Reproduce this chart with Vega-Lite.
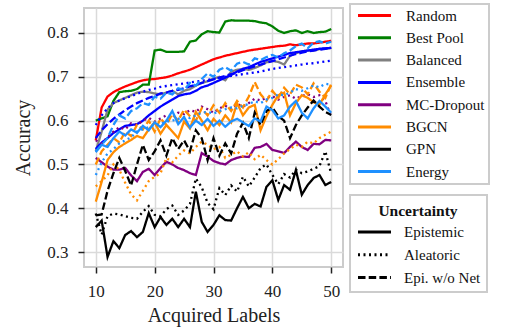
{
  "$schema": "https://vega.github.io/schema/vega-lite/v6.json",
  "width": 259,
  "height": 259,
  "autosize": {"type": "none"},
  "padding": {"left": 84, "top": 8, "right": 172, "bottom": 65},
  "background": "white",
  "config": {
    "view": {"stroke": "#cccccc", "strokeWidth": 2},
    "style": {
      "guide-label": {"font": "Liberation Serif"},
      "guide-title": {"font": "Liberation Serif"}
    },
    "axis": {
      "labelFont": "Liberation Serif",
      "labelFontSize": 17,
      "labelColor": "#222222",
      "titleFont": "Liberation Serif",
      "titleFontSize": 20,
      "titleFontWeight": "normal",
      "titleColor": "#222222",
      "domain": false,
      "tickColor": "#222222",
      "tickSize": 6,
      "tickWidth": 1.5,
      "labelPadding": 10,
      "gridColor": "#dadada",
      "gridWidth": 1.5
    },
    "legend": {
      "labelFont": "Liberation Serif",
      "labelFontSize": 15,
      "labelColor": "#111111",
      "symbolType": "M-3,0H3",
      "symbolSize": 121,
      "symbolStrokeWidth": 3,
      "symbolOffset": 13,
      "labelOffset": 24,
      "rowPadding": 6.3,
      "padding": 4,
      "strokeColor": "#cccccc",
      "fillColor": "white",
      "cornerRadius": 0
    }
  },
  "data": {"values": [
    {"m":"Random","u":"E","x":10,"y":0.555},{"m":"Random","u":"E","x":11,"y":0.630},{"m":"Random","u":"E","x":12,"y":0.655},{"m":"Random","u":"E","x":13,"y":0.665},{"m":"Random","u":"E","x":14,"y":0.672},{"m":"Random","u":"E","x":15,"y":0.678},{"m":"Random","u":"E","x":16,"y":0.683},{"m":"Random","u":"E","x":17,"y":0.688},{"m":"Random","u":"E","x":18,"y":0.692},{"m":"Random","u":"E","x":19,"y":0.694},{"m":"Random","u":"E","x":20,"y":0.695},{"m":"Random","u":"E","x":21,"y":0.697},{"m":"Random","u":"E","x":22,"y":0.699},{"m":"Random","u":"E","x":23,"y":0.703},{"m":"Random","u":"E","x":24,"y":0.708},{"m":"Random","u":"E","x":25,"y":0.712},{"m":"Random","u":"E","x":26,"y":0.716},{"m":"Random","u":"E","x":27,"y":0.722},{"m":"Random","u":"E","x":28,"y":0.728},{"m":"Random","u":"E","x":29,"y":0.734},{"m":"Random","u":"E","x":30,"y":0.740},{"m":"Random","u":"E","x":31,"y":0.744},{"m":"Random","u":"E","x":32,"y":0.748},{"m":"Random","u":"E","x":33,"y":0.751},{"m":"Random","u":"E","x":34,"y":0.754},{"m":"Random","u":"E","x":35,"y":0.757},{"m":"Random","u":"E","x":36,"y":0.760},{"m":"Random","u":"E","x":37,"y":0.762},{"m":"Random","u":"E","x":38,"y":0.764},{"m":"Random","u":"E","x":39,"y":0.766},{"m":"Random","u":"E","x":40,"y":0.768},{"m":"Random","u":"E","x":41,"y":0.770},{"m":"Random","u":"E","x":42,"y":0.771},{"m":"Random","u":"E","x":43,"y":0.774},{"m":"Random","u":"E","x":44,"y":0.772},{"m":"Random","u":"E","x":45,"y":0.774},{"m":"Random","u":"E","x":46,"y":0.776},{"m":"Random","u":"E","x":47,"y":0.776},{"m":"Random","u":"E","x":48,"y":0.778},{"m":"Random","u":"E","x":49,"y":0.780},{"m":"Random","u":"E","x":50,"y":0.782},

    {"m":"Best Pool","u":"E","x":10,"y":0.600},{"m":"Best Pool","u":"E","x":11,"y":0.605},{"m":"Best Pool","u":"E","x":12,"y":0.610},{"m":"Best Pool","u":"E","x":13,"y":0.645},{"m":"Best Pool","u":"E","x":14,"y":0.665},{"m":"Best Pool","u":"E","x":15,"y":0.667},{"m":"Best Pool","u":"E","x":16,"y":0.668},{"m":"Best Pool","u":"E","x":17,"y":0.672},{"m":"Best Pool","u":"E","x":18,"y":0.682},{"m":"Best Pool","u":"E","x":19,"y":0.682},{"m":"Best Pool","u":"E","x":20,"y":0.760},{"m":"Best Pool","u":"E","x":21,"y":0.762},{"m":"Best Pool","u":"E","x":22,"y":0.757},{"m":"Best Pool","u":"E","x":23,"y":0.757},{"m":"Best Pool","u":"E","x":24,"y":0.757},{"m":"Best Pool","u":"E","x":25,"y":0.758},{"m":"Best Pool","u":"E","x":26,"y":0.780},{"m":"Best Pool","u":"E","x":27,"y":0.783},{"m":"Best Pool","u":"E","x":28,"y":0.797},{"m":"Best Pool","u":"E","x":29,"y":0.804},{"m":"Best Pool","u":"E","x":30,"y":0.802},{"m":"Best Pool","u":"E","x":31,"y":0.801},{"m":"Best Pool","u":"E","x":32,"y":0.826},{"m":"Best Pool","u":"E","x":33,"y":0.829},{"m":"Best Pool","u":"E","x":34,"y":0.828},{"m":"Best Pool","u":"E","x":35,"y":0.828},{"m":"Best Pool","u":"E","x":36,"y":0.828},{"m":"Best Pool","u":"E","x":37,"y":0.827},{"m":"Best Pool","u":"E","x":38,"y":0.824},{"m":"Best Pool","u":"E","x":39,"y":0.822},{"m":"Best Pool","u":"E","x":40,"y":0.815},{"m":"Best Pool","u":"E","x":41,"y":0.805},{"m":"Best Pool","u":"E","x":42,"y":0.800},{"m":"Best Pool","u":"E","x":43,"y":0.804},{"m":"Best Pool","u":"E","x":44,"y":0.806},{"m":"Best Pool","u":"E","x":45,"y":0.800},{"m":"Best Pool","u":"E","x":46,"y":0.804},{"m":"Best Pool","u":"E","x":47,"y":0.800},{"m":"Best Pool","u":"E","x":48,"y":0.802},{"m":"Best Pool","u":"E","x":49,"y":0.803},{"m":"Best Pool","u":"E","x":50,"y":0.809},

    {"m":"Balanced","u":"E","x":10,"y":0.530},{"m":"Balanced","u":"E","x":11,"y":0.575},{"m":"Balanced","u":"E","x":12,"y":0.625},{"m":"Balanced","u":"E","x":13,"y":0.640},{"m":"Balanced","u":"E","x":14,"y":0.646},{"m":"Balanced","u":"E","x":15,"y":0.652},{"m":"Balanced","u":"E","x":16,"y":0.658},{"m":"Balanced","u":"E","x":17,"y":0.664},{"m":"Balanced","u":"E","x":18,"y":0.666},{"m":"Balanced","u":"E","x":19,"y":0.665},{"m":"Balanced","u":"E","x":20,"y":0.662},{"m":"Balanced","u":"E","x":21,"y":0.660},{"m":"Balanced","u":"E","x":22,"y":0.664},{"m":"Balanced","u":"E","x":23,"y":0.668},{"m":"Balanced","u":"E","x":24,"y":0.660},{"m":"Balanced","u":"E","x":25,"y":0.668},{"m":"Balanced","u":"E","x":26,"y":0.672},{"m":"Balanced","u":"E","x":27,"y":0.680},{"m":"Balanced","u":"E","x":28,"y":0.686},{"m":"Balanced","u":"E","x":29,"y":0.690},{"m":"Balanced","u":"E","x":30,"y":0.696},{"m":"Balanced","u":"E","x":31,"y":0.700},{"m":"Balanced","u":"E","x":32,"y":0.692},{"m":"Balanced","u":"E","x":33,"y":0.712},{"m":"Balanced","u":"E","x":34,"y":0.716},{"m":"Balanced","u":"E","x":35,"y":0.718},{"m":"Balanced","u":"E","x":36,"y":0.716},{"m":"Balanced","u":"E","x":37,"y":0.720},{"m":"Balanced","u":"E","x":38,"y":0.726},{"m":"Balanced","u":"E","x":39,"y":0.733},{"m":"Balanced","u":"E","x":40,"y":0.736},{"m":"Balanced","u":"E","x":41,"y":0.734},{"m":"Balanced","u":"E","x":42,"y":0.728},{"m":"Balanced","u":"E","x":43,"y":0.748},{"m":"Balanced","u":"E","x":44,"y":0.754},{"m":"Balanced","u":"E","x":45,"y":0.758},{"m":"Balanced","u":"E","x":46,"y":0.760},{"m":"Balanced","u":"E","x":47,"y":0.760},{"m":"Balanced","u":"E","x":48,"y":0.763},{"m":"Balanced","u":"E","x":49,"y":0.764},{"m":"Balanced","u":"E","x":50,"y":0.766},

    {"m":"Ensemble","u":"E","x":10,"y":0.535},{"m":"Ensemble","u":"E","x":11,"y":0.550},{"m":"Ensemble","u":"E","x":12,"y":0.560},{"m":"Ensemble","u":"E","x":13,"y":0.572},{"m":"Ensemble","u":"E","x":14,"y":0.580},{"m":"Ensemble","u":"E","x":15,"y":0.588},{"m":"Ensemble","u":"E","x":16,"y":0.590},{"m":"Ensemble","u":"E","x":17,"y":0.592},{"m":"Ensemble","u":"E","x":18,"y":0.600},{"m":"Ensemble","u":"E","x":19,"y":0.612},{"m":"Ensemble","u":"E","x":20,"y":0.622},{"m":"Ensemble","u":"E","x":21,"y":0.632},{"m":"Ensemble","u":"E","x":22,"y":0.640},{"m":"Ensemble","u":"E","x":23,"y":0.648},{"m":"Ensemble","u":"E","x":24,"y":0.656},{"m":"Ensemble","u":"E","x":25,"y":0.660},{"m":"Ensemble","u":"E","x":26,"y":0.662},{"m":"Ensemble","u":"E","x":27,"y":0.668},{"m":"Ensemble","u":"E","x":28,"y":0.676},{"m":"Ensemble","u":"E","x":29,"y":0.680},{"m":"Ensemble","u":"E","x":30,"y":0.686},{"m":"Ensemble","u":"E","x":31,"y":0.692},{"m":"Ensemble","u":"E","x":32,"y":0.698},{"m":"Ensemble","u":"E","x":33,"y":0.704},{"m":"Ensemble","u":"E","x":34,"y":0.712},{"m":"Ensemble","u":"E","x":35,"y":0.718},{"m":"Ensemble","u":"E","x":36,"y":0.722},{"m":"Ensemble","u":"E","x":37,"y":0.728},{"m":"Ensemble","u":"E","x":38,"y":0.734},{"m":"Ensemble","u":"E","x":39,"y":0.738},{"m":"Ensemble","u":"E","x":40,"y":0.742},{"m":"Ensemble","u":"E","x":41,"y":0.746},{"m":"Ensemble","u":"E","x":42,"y":0.750},{"m":"Ensemble","u":"E","x":43,"y":0.754},{"m":"Ensemble","u":"E","x":44,"y":0.756},{"m":"Ensemble","u":"E","x":45,"y":0.758},{"m":"Ensemble","u":"E","x":46,"y":0.760},{"m":"Ensemble","u":"E","x":47,"y":0.762},{"m":"Ensemble","u":"E","x":48,"y":0.764},{"m":"Ensemble","u":"E","x":49,"y":0.765},{"m":"Ensemble","u":"E","x":50,"y":0.766},

    {"m":"Ensemble","u":"A","x":10,"y":0.590},{"m":"Ensemble","u":"A","x":11,"y":0.612},{"m":"Ensemble","u":"A","x":12,"y":0.628},{"m":"Ensemble","u":"A","x":13,"y":0.640},{"m":"Ensemble","u":"A","x":14,"y":0.646},{"m":"Ensemble","u":"A","x":15,"y":0.651},{"m":"Ensemble","u":"A","x":16,"y":0.656},{"m":"Ensemble","u":"A","x":17,"y":0.661},{"m":"Ensemble","u":"A","x":18,"y":0.666},{"m":"Ensemble","u":"A","x":19,"y":0.670},{"m":"Ensemble","u":"A","x":20,"y":0.673},{"m":"Ensemble","u":"A","x":21,"y":0.677},{"m":"Ensemble","u":"A","x":22,"y":0.679},{"m":"Ensemble","u":"A","x":23,"y":0.681},{"m":"Ensemble","u":"A","x":24,"y":0.683},{"m":"Ensemble","u":"A","x":25,"y":0.685},{"m":"Ensemble","u":"A","x":26,"y":0.687},{"m":"Ensemble","u":"A","x":27,"y":0.689},{"m":"Ensemble","u":"A","x":28,"y":0.691},{"m":"Ensemble","u":"A","x":29,"y":0.693},{"m":"Ensemble","u":"A","x":30,"y":0.695},{"m":"Ensemble","u":"A","x":31,"y":0.697},{"m":"Ensemble","u":"A","x":32,"y":0.700},{"m":"Ensemble","u":"A","x":33,"y":0.702},{"m":"Ensemble","u":"A","x":34,"y":0.704},{"m":"Ensemble","u":"A","x":35,"y":0.706},{"m":"Ensemble","u":"A","x":36,"y":0.708},{"m":"Ensemble","u":"A","x":37,"y":0.710},{"m":"Ensemble","u":"A","x":38,"y":0.712},{"m":"Ensemble","u":"A","x":39,"y":0.715},{"m":"Ensemble","u":"A","x":40,"y":0.718},{"m":"Ensemble","u":"A","x":41,"y":0.720},{"m":"Ensemble","u":"A","x":42,"y":0.722},{"m":"Ensemble","u":"A","x":43,"y":0.724},{"m":"Ensemble","u":"A","x":44,"y":0.726},{"m":"Ensemble","u":"A","x":45,"y":0.728},{"m":"Ensemble","u":"A","x":46,"y":0.730},{"m":"Ensemble","u":"A","x":47,"y":0.731},{"m":"Ensemble","u":"A","x":48,"y":0.733},{"m":"Ensemble","u":"A","x":49,"y":0.735},{"m":"Ensemble","u":"A","x":50,"y":0.737},

    {"m":"Ensemble","u":"W","x":10,"y":0.560},{"m":"Ensemble","u":"W","x":11,"y":0.578},{"m":"Ensemble","u":"W","x":12,"y":0.592},{"m":"Ensemble","u":"W","x":13,"y":0.604},{"m":"Ensemble","u":"W","x":14,"y":0.614},{"m":"Ensemble","u":"W","x":15,"y":0.624},{"m":"Ensemble","u":"W","x":16,"y":0.632},{"m":"Ensemble","u":"W","x":17,"y":0.640},{"m":"Ensemble","u":"W","x":18,"y":0.646},{"m":"Ensemble","u":"W","x":19,"y":0.652},{"m":"Ensemble","u":"W","x":20,"y":0.656},{"m":"Ensemble","u":"W","x":21,"y":0.662},{"m":"Ensemble","u":"W","x":22,"y":0.664},{"m":"Ensemble","u":"W","x":23,"y":0.668},{"m":"Ensemble","u":"W","x":24,"y":0.670},{"m":"Ensemble","u":"W","x":25,"y":0.674},{"m":"Ensemble","u":"W","x":26,"y":0.678},{"m":"Ensemble","u":"W","x":27,"y":0.682},{"m":"Ensemble","u":"W","x":28,"y":0.686},{"m":"Ensemble","u":"W","x":29,"y":0.690},{"m":"Ensemble","u":"W","x":30,"y":0.694},{"m":"Ensemble","u":"W","x":31,"y":0.698},{"m":"Ensemble","u":"W","x":32,"y":0.702},{"m":"Ensemble","u":"W","x":33,"y":0.706},{"m":"Ensemble","u":"W","x":34,"y":0.710},{"m":"Ensemble","u":"W","x":35,"y":0.715},{"m":"Ensemble","u":"W","x":36,"y":0.720},{"m":"Ensemble","u":"W","x":37,"y":0.724},{"m":"Ensemble","u":"W","x":38,"y":0.728},{"m":"Ensemble","u":"W","x":39,"y":0.732},{"m":"Ensemble","u":"W","x":40,"y":0.736},{"m":"Ensemble","u":"W","x":41,"y":0.740},{"m":"Ensemble","u":"W","x":42,"y":0.744},{"m":"Ensemble","u":"W","x":43,"y":0.748},{"m":"Ensemble","u":"W","x":44,"y":0.752},{"m":"Ensemble","u":"W","x":45,"y":0.755},{"m":"Ensemble","u":"W","x":46,"y":0.758},{"m":"Ensemble","u":"W","x":47,"y":0.760},{"m":"Ensemble","u":"W","x":48,"y":0.762},{"m":"Ensemble","u":"W","x":49,"y":0.764},{"m":"Ensemble","u":"W","x":50,"y":0.766},

    {"m":"MC-Dropout","u":"E","x":10,"y":0.515},{"m":"MC-Dropout","u":"E","x":11,"y":0.505},{"m":"MC-Dropout","u":"E","x":12,"y":0.495},{"m":"MC-Dropout","u":"E","x":13,"y":0.488},{"m":"MC-Dropout","u":"E","x":14,"y":0.488},{"m":"MC-Dropout","u":"E","x":15,"y":0.492},{"m":"MC-Dropout","u":"E","x":16,"y":0.475},{"m":"MC-Dropout","u":"E","x":17,"y":0.462},{"m":"MC-Dropout","u":"E","x":18,"y":0.483},{"m":"MC-Dropout","u":"E","x":19,"y":0.490},{"m":"MC-Dropout","u":"E","x":20,"y":0.476},{"m":"MC-Dropout","u":"E","x":21,"y":0.492},{"m":"MC-Dropout","u":"E","x":22,"y":0.506},{"m":"MC-Dropout","u":"E","x":23,"y":0.500},{"m":"MC-Dropout","u":"E","x":24,"y":0.492},{"m":"MC-Dropout","u":"E","x":25,"y":0.487},{"m":"MC-Dropout","u":"E","x":26,"y":0.480},{"m":"MC-Dropout","u":"E","x":27,"y":0.476},{"m":"MC-Dropout","u":"E","x":28,"y":0.526},{"m":"MC-Dropout","u":"E","x":29,"y":0.518},{"m":"MC-Dropout","u":"E","x":30,"y":0.508},{"m":"MC-Dropout","u":"E","x":31,"y":0.503},{"m":"MC-Dropout","u":"E","x":32,"y":0.500},{"m":"MC-Dropout","u":"E","x":33,"y":0.510},{"m":"MC-Dropout","u":"E","x":34,"y":0.515},{"m":"MC-Dropout","u":"E","x":35,"y":0.518},{"m":"MC-Dropout","u":"E","x":36,"y":0.517},{"m":"MC-Dropout","u":"E","x":37,"y":0.538},{"m":"MC-Dropout","u":"E","x":38,"y":0.540},{"m":"MC-Dropout","u":"E","x":39,"y":0.547},{"m":"MC-Dropout","u":"E","x":40,"y":0.533},{"m":"MC-Dropout","u":"E","x":41,"y":0.530},{"m":"MC-Dropout","u":"E","x":42,"y":0.526},{"m":"MC-Dropout","u":"E","x":43,"y":0.540},{"m":"MC-Dropout","u":"E","x":44,"y":0.552},{"m":"MC-Dropout","u":"E","x":45,"y":0.540},{"m":"MC-Dropout","u":"E","x":46,"y":0.533},{"m":"MC-Dropout","u":"E","x":47,"y":0.547},{"m":"MC-Dropout","u":"E","x":48,"y":0.546},{"m":"MC-Dropout","u":"E","x":49,"y":0.556},{"m":"MC-Dropout","u":"E","x":50,"y":0.555},

    {"m":"MC-Dropout","u":"A","x":10,"y":0.555},{"m":"MC-Dropout","u":"A","x":11,"y":0.548},{"m":"MC-Dropout","u":"A","x":12,"y":0.562},{"m":"MC-Dropout","u":"A","x":13,"y":0.575},{"m":"MC-Dropout","u":"A","x":14,"y":0.585},{"m":"MC-Dropout","u":"A","x":15,"y":0.580},{"m":"MC-Dropout","u":"A","x":16,"y":0.594},{"m":"MC-Dropout","u":"A","x":17,"y":0.590},{"m":"MC-Dropout","u":"A","x":18,"y":0.600},{"m":"MC-Dropout","u":"A","x":19,"y":0.606},{"m":"MC-Dropout","u":"A","x":20,"y":0.598},{"m":"MC-Dropout","u":"A","x":21,"y":0.605},{"m":"MC-Dropout","u":"A","x":22,"y":0.612},{"m":"MC-Dropout","u":"A","x":23,"y":0.606},{"m":"MC-Dropout","u":"A","x":24,"y":0.618},{"m":"MC-Dropout","u":"A","x":25,"y":0.615},{"m":"MC-Dropout","u":"A","x":26,"y":0.624},{"m":"MC-Dropout","u":"A","x":27,"y":0.620},{"m":"MC-Dropout","u":"A","x":28,"y":0.632},{"m":"MC-Dropout","u":"A","x":29,"y":0.626},{"m":"MC-Dropout","u":"A","x":30,"y":0.618},{"m":"MC-Dropout","u":"A","x":31,"y":0.628},{"m":"MC-Dropout","u":"A","x":32,"y":0.634},{"m":"MC-Dropout","u":"A","x":33,"y":0.626},{"m":"MC-Dropout","u":"A","x":34,"y":0.638},{"m":"MC-Dropout","u":"A","x":35,"y":0.632},{"m":"MC-Dropout","u":"A","x":36,"y":0.640},{"m":"MC-Dropout","u":"A","x":37,"y":0.650},{"m":"MC-Dropout","u":"A","x":38,"y":0.646},{"m":"MC-Dropout","u":"A","x":39,"y":0.652},{"m":"MC-Dropout","u":"A","x":40,"y":0.656},{"m":"MC-Dropout","u":"A","x":41,"y":0.648},{"m":"MC-Dropout","u":"A","x":42,"y":0.654},{"m":"MC-Dropout","u":"A","x":43,"y":0.658},{"m":"MC-Dropout","u":"A","x":44,"y":0.650},{"m":"MC-Dropout","u":"A","x":45,"y":0.656},{"m":"MC-Dropout","u":"A","x":46,"y":0.660},{"m":"MC-Dropout","u":"A","x":47,"y":0.654},{"m":"MC-Dropout","u":"A","x":48,"y":0.658},{"m":"MC-Dropout","u":"A","x":49,"y":0.645},{"m":"MC-Dropout","u":"A","x":50,"y":0.608},

    {"m":"BGCN","u":"E","x":10,"y":0.415},{"m":"BGCN","u":"E","x":11,"y":0.460},{"m":"BGCN","u":"E","x":12,"y":0.510},{"m":"BGCN","u":"E","x":13,"y":0.528},{"m":"BGCN","u":"E","x":14,"y":0.540},{"m":"BGCN","u":"E","x":15,"y":0.548},{"m":"BGCN","u":"E","x":16,"y":0.556},{"m":"BGCN","u":"E","x":17,"y":0.565},{"m":"BGCN","u":"E","x":18,"y":0.560},{"m":"BGCN","u":"E","x":19,"y":0.580},{"m":"BGCN","u":"E","x":20,"y":0.596},{"m":"BGCN","u":"E","x":21,"y":0.570},{"m":"BGCN","u":"E","x":22,"y":0.590},{"m":"BGCN","u":"E","x":23,"y":0.575},{"m":"BGCN","u":"E","x":24,"y":0.560},{"m":"BGCN","u":"E","x":25,"y":0.598},{"m":"BGCN","u":"E","x":26,"y":0.582},{"m":"BGCN","u":"E","x":27,"y":0.620},{"m":"BGCN","u":"E","x":28,"y":0.600},{"m":"BGCN","u":"E","x":29,"y":0.578},{"m":"BGCN","u":"E","x":30,"y":0.604},{"m":"BGCN","u":"E","x":31,"y":0.590},{"m":"BGCN","u":"E","x":32,"y":0.612},{"m":"BGCN","u":"E","x":33,"y":0.596},{"m":"BGCN","u":"E","x":34,"y":0.640},{"m":"BGCN","u":"E","x":35,"y":0.612},{"m":"BGCN","u":"E","x":36,"y":0.630},{"m":"BGCN","u":"E","x":37,"y":0.636},{"m":"BGCN","u":"E","x":38,"y":0.578},{"m":"BGCN","u":"E","x":39,"y":0.610},{"m":"BGCN","u":"E","x":40,"y":0.636},{"m":"BGCN","u":"E","x":41,"y":0.658},{"m":"BGCN","u":"E","x":42,"y":0.664},{"m":"BGCN","u":"E","x":43,"y":0.612},{"m":"BGCN","u":"E","x":44,"y":0.640},{"m":"BGCN","u":"E","x":45,"y":0.658},{"m":"BGCN","u":"E","x":46,"y":0.652},{"m":"BGCN","u":"E","x":47,"y":0.642},{"m":"BGCN","u":"E","x":48,"y":0.636},{"m":"BGCN","u":"E","x":49,"y":0.660},{"m":"BGCN","u":"E","x":50,"y":0.680},

    {"m":"BGCN","u":"A","x":10,"y":0.450},{"m":"BGCN","u":"A","x":11,"y":0.462},{"m":"BGCN","u":"A","x":12,"y":0.475},{"m":"BGCN","u":"A","x":13,"y":0.500},{"m":"BGCN","u":"A","x":14,"y":0.488},{"m":"BGCN","u":"A","x":15,"y":0.458},{"m":"BGCN","u":"A","x":16,"y":0.432},{"m":"BGCN","u":"A","x":17,"y":0.418},{"m":"BGCN","u":"A","x":18,"y":0.440},{"m":"BGCN","u":"A","x":19,"y":0.462},{"m":"BGCN","u":"A","x":20,"y":0.472},{"m":"BGCN","u":"A","x":21,"y":0.480},{"m":"BGCN","u":"A","x":22,"y":0.515},{"m":"BGCN","u":"A","x":23,"y":0.505},{"m":"BGCN","u":"A","x":24,"y":0.520},{"m":"BGCN","u":"A","x":25,"y":0.532},{"m":"BGCN","u":"A","x":26,"y":0.525},{"m":"BGCN","u":"A","x":27,"y":0.540},{"m":"BGCN","u":"A","x":28,"y":0.552},{"m":"BGCN","u":"A","x":29,"y":0.545},{"m":"BGCN","u":"A","x":30,"y":0.535},{"m":"BGCN","u":"A","x":31,"y":0.540},{"m":"BGCN","u":"A","x":32,"y":0.515},{"m":"BGCN","u":"A","x":33,"y":0.522},{"m":"BGCN","u":"A","x":34,"y":0.530},{"m":"BGCN","u":"A","x":35,"y":0.518},{"m":"BGCN","u":"A","x":36,"y":0.528},{"m":"BGCN","u":"A","x":37,"y":0.512},{"m":"BGCN","u":"A","x":38,"y":0.522},{"m":"BGCN","u":"A","x":39,"y":0.510},{"m":"BGCN","u":"A","x":40,"y":0.500},{"m":"BGCN","u":"A","x":41,"y":0.512},{"m":"BGCN","u":"A","x":42,"y":0.525},{"m":"BGCN","u":"A","x":43,"y":0.535},{"m":"BGCN","u":"A","x":44,"y":0.545},{"m":"BGCN","u":"A","x":45,"y":0.540},{"m":"BGCN","u":"A","x":46,"y":0.552},{"m":"BGCN","u":"A","x":47,"y":0.548},{"m":"BGCN","u":"A","x":48,"y":0.560},{"m":"BGCN","u":"A","x":49,"y":0.568},{"m":"BGCN","u":"A","x":50,"y":0.575},

    {"m":"BGCN","u":"W","x":10,"y":0.500},{"m":"BGCN","u":"W","x":11,"y":0.530},{"m":"BGCN","u":"W","x":12,"y":0.545},{"m":"BGCN","u":"W","x":13,"y":0.560},{"m":"BGCN","u":"W","x":14,"y":0.550},{"m":"BGCN","u":"W","x":15,"y":0.575},{"m":"BGCN","u":"W","x":16,"y":0.565},{"m":"BGCN","u":"W","x":17,"y":0.590},{"m":"BGCN","u":"W","x":18,"y":0.580},{"m":"BGCN","u":"W","x":19,"y":0.600},{"m":"BGCN","u":"W","x":20,"y":0.575},{"m":"BGCN","u":"W","x":21,"y":0.605},{"m":"BGCN","u":"W","x":22,"y":0.590},{"m":"BGCN","u":"W","x":23,"y":0.615},{"m":"BGCN","u":"W","x":24,"y":0.600},{"m":"BGCN","u":"W","x":25,"y":0.625},{"m":"BGCN","u":"W","x":26,"y":0.610},{"m":"BGCN","u":"W","x":27,"y":0.600},{"m":"BGCN","u":"W","x":28,"y":0.628},{"m":"BGCN","u":"W","x":29,"y":0.612},{"m":"BGCN","u":"W","x":30,"y":0.635},{"m":"BGCN","u":"W","x":31,"y":0.618},{"m":"BGCN","u":"W","x":32,"y":0.640},{"m":"BGCN","u":"W","x":33,"y":0.622},{"m":"BGCN","u":"W","x":34,"y":0.645},{"m":"BGCN","u":"W","x":35,"y":0.630},{"m":"BGCN","u":"W","x":36,"y":0.655},{"m":"BGCN","u":"W","x":37,"y":0.688},{"m":"BGCN","u":"W","x":38,"y":0.660},{"m":"BGCN","u":"W","x":39,"y":0.645},{"m":"BGCN","u":"W","x":40,"y":0.668},{"m":"BGCN","u":"W","x":41,"y":0.652},{"m":"BGCN","u":"W","x":42,"y":0.675},{"m":"BGCN","u":"W","x":43,"y":0.660},{"m":"BGCN","u":"W","x":44,"y":0.682},{"m":"BGCN","u":"W","x":45,"y":0.676},{"m":"BGCN","u":"W","x":46,"y":0.660},{"m":"BGCN","u":"W","x":47,"y":0.685},{"m":"BGCN","u":"W","x":48,"y":0.666},{"m":"BGCN","u":"W","x":49,"y":0.652},{"m":"BGCN","u":"W","x":50,"y":0.684},

    {"m":"GPN","u":"E","x":10,"y":0.357},{"m":"GPN","u":"E","x":11,"y":0.372},{"m":"GPN","u":"E","x":12,"y":0.289},{"m":"GPN","u":"E","x":13,"y":0.325},{"m":"GPN","u":"E","x":14,"y":0.309},{"m":"GPN","u":"E","x":15,"y":0.339},{"m":"GPN","u":"E","x":16,"y":0.348},{"m":"GPN","u":"E","x":17,"y":0.334},{"m":"GPN","u":"E","x":18,"y":0.346},{"m":"GPN","u":"E","x":19,"y":0.389},{"m":"GPN","u":"E","x":20,"y":0.357},{"m":"GPN","u":"E","x":21,"y":0.380},{"m":"GPN","u":"E","x":22,"y":0.362},{"m":"GPN","u":"E","x":23,"y":0.376},{"m":"GPN","u":"E","x":24,"y":0.357},{"m":"GPN","u":"E","x":25,"y":0.376},{"m":"GPN","u":"E","x":26,"y":0.357},{"m":"GPN","u":"E","x":27,"y":0.438},{"m":"GPN","u":"E","x":28,"y":0.369},{"m":"GPN","u":"E","x":29,"y":0.346},{"m":"GPN","u":"E","x":30,"y":0.362},{"m":"GPN","u":"E","x":31,"y":0.384},{"m":"GPN","u":"E","x":32,"y":0.373},{"m":"GPN","u":"E","x":33,"y":0.372},{"m":"GPN","u":"E","x":34,"y":0.400},{"m":"GPN","u":"E","x":35,"y":0.426},{"m":"GPN","u":"E","x":36,"y":0.400},{"m":"GPN","u":"E","x":37,"y":0.410},{"m":"GPN","u":"E","x":38,"y":0.404},{"m":"GPN","u":"E","x":39,"y":0.449},{"m":"GPN","u":"E","x":40,"y":0.464},{"m":"GPN","u":"E","x":41,"y":0.419},{"m":"GPN","u":"E","x":42,"y":0.453},{"m":"GPN","u":"E","x":43,"y":0.442},{"m":"GPN","u":"E","x":44,"y":0.487},{"m":"GPN","u":"E","x":45,"y":0.431},{"m":"GPN","u":"E","x":46,"y":0.453},{"m":"GPN","u":"E","x":47,"y":0.469},{"m":"GPN","u":"E","x":48,"y":0.476},{"m":"GPN","u":"E","x":49,"y":0.453},{"m":"GPN","u":"E","x":50,"y":0.460},

    {"m":"GPN","u":"A","x":10,"y":0.388},{"m":"GPN","u":"A","x":11,"y":0.340},{"m":"GPN","u":"A","x":12,"y":0.382},{"m":"GPN","u":"A","x":13,"y":0.388},{"m":"GPN","u":"A","x":14,"y":0.386},{"m":"GPN","u":"A","x":15,"y":0.382},{"m":"GPN","u":"A","x":16,"y":0.378},{"m":"GPN","u":"A","x":17,"y":0.376},{"m":"GPN","u":"A","x":18,"y":0.392},{"m":"GPN","u":"A","x":19,"y":0.405},{"m":"GPN","u":"A","x":20,"y":0.385},{"m":"GPN","u":"A","x":21,"y":0.382},{"m":"GPN","u":"A","x":22,"y":0.398},{"m":"GPN","u":"A","x":23,"y":0.406},{"m":"GPN","u":"A","x":24,"y":0.385},{"m":"GPN","u":"A","x":25,"y":0.395},{"m":"GPN","u":"A","x":26,"y":0.410},{"m":"GPN","u":"A","x":27,"y":0.468},{"m":"GPN","u":"A","x":28,"y":0.448},{"m":"GPN","u":"A","x":29,"y":0.412},{"m":"GPN","u":"A","x":30,"y":0.398},{"m":"GPN","u":"A","x":31,"y":0.446},{"m":"GPN","u":"A","x":32,"y":0.430},{"m":"GPN","u":"A","x":33,"y":0.452},{"m":"GPN","u":"A","x":34,"y":0.438},{"m":"GPN","u":"A","x":35,"y":0.472},{"m":"GPN","u":"A","x":36,"y":0.450},{"m":"GPN","u":"A","x":37,"y":0.470},{"m":"GPN","u":"A","x":38,"y":0.492},{"m":"GPN","u":"A","x":39,"y":0.500},{"m":"GPN","u":"A","x":40,"y":0.476},{"m":"GPN","u":"A","x":41,"y":0.455},{"m":"GPN","u":"A","x":42,"y":0.478},{"m":"GPN","u":"A","x":43,"y":0.470},{"m":"GPN","u":"A","x":44,"y":0.488},{"m":"GPN","u":"A","x":45,"y":0.480},{"m":"GPN","u":"A","x":46,"y":0.484},{"m":"GPN","u":"A","x":47,"y":0.490},{"m":"GPN","u":"A","x":48,"y":0.496},{"m":"GPN","u":"A","x":49,"y":0.530},{"m":"GPN","u":"A","x":50,"y":0.478},

    {"m":"GPN","u":"W","x":10,"y":0.384},{"m":"GPN","u":"W","x":11,"y":0.386},{"m":"GPN","u":"W","x":12,"y":0.440},{"m":"GPN","u":"W","x":13,"y":0.480},{"m":"GPN","u":"W","x":14,"y":0.515},{"m":"GPN","u":"W","x":15,"y":0.485},{"m":"GPN","u":"W","x":16,"y":0.452},{"m":"GPN","u":"W","x":17,"y":0.500},{"m":"GPN","u":"W","x":18,"y":0.545},{"m":"GPN","u":"W","x":19,"y":0.510},{"m":"GPN","u":"W","x":20,"y":0.530},{"m":"GPN","u":"W","x":21,"y":0.555},{"m":"GPN","u":"W","x":22,"y":0.520},{"m":"GPN","u":"W","x":23,"y":0.560},{"m":"GPN","u":"W","x":24,"y":0.535},{"m":"GPN","u":"W","x":25,"y":0.555},{"m":"GPN","u":"W","x":26,"y":0.530},{"m":"GPN","u":"W","x":27,"y":0.578},{"m":"GPN","u":"W","x":28,"y":0.560},{"m":"GPN","u":"W","x":29,"y":0.510},{"m":"GPN","u":"W","x":30,"y":0.560},{"m":"GPN","u":"W","x":31,"y":0.520},{"m":"GPN","u":"W","x":32,"y":0.548},{"m":"GPN","u":"W","x":33,"y":0.525},{"m":"GPN","u":"W","x":34,"y":0.570},{"m":"GPN","u":"W","x":35,"y":0.595},{"m":"GPN","u":"W","x":36,"y":0.560},{"m":"GPN","u":"W","x":37,"y":0.618},{"m":"GPN","u":"W","x":38,"y":0.590},{"m":"GPN","u":"W","x":39,"y":0.622},{"m":"GPN","u":"W","x":40,"y":0.630},{"m":"GPN","u":"W","x":41,"y":0.610},{"m":"GPN","u":"W","x":42,"y":0.600},{"m":"GPN","u":"W","x":43,"y":0.560},{"m":"GPN","u":"W","x":44,"y":0.590},{"m":"GPN","u":"W","x":45,"y":0.612},{"m":"GPN","u":"W","x":46,"y":0.630},{"m":"GPN","u":"W","x":47,"y":0.646},{"m":"GPN","u":"W","x":48,"y":0.632},{"m":"GPN","u":"W","x":49,"y":0.620},{"m":"GPN","u":"W","x":50,"y":0.613},

    {"m":"Energy","u":"E","x":10,"y":0.528},{"m":"Energy","u":"E","x":11,"y":0.545},{"m":"Energy","u":"E","x":12,"y":0.540},{"m":"Energy","u":"E","x":13,"y":0.560},{"m":"Energy","u":"E","x":14,"y":0.575},{"m":"Energy","u":"E","x":15,"y":0.566},{"m":"Energy","u":"E","x":16,"y":0.580},{"m":"Energy","u":"E","x":17,"y":0.572},{"m":"Energy","u":"E","x":18,"y":0.588},{"m":"Energy","u":"E","x":19,"y":0.578},{"m":"Energy","u":"E","x":20,"y":0.596},{"m":"Energy","u":"E","x":21,"y":0.585},{"m":"Energy","u":"E","x":22,"y":0.600},{"m":"Energy","u":"E","x":23,"y":0.622},{"m":"Energy","u":"E","x":24,"y":0.592},{"m":"Energy","u":"E","x":25,"y":0.608},{"m":"Energy","u":"E","x":26,"y":0.584},{"m":"Energy","u":"E","x":27,"y":0.600},{"m":"Energy","u":"E","x":28,"y":0.590},{"m":"Energy","u":"E","x":29,"y":0.604},{"m":"Energy","u":"E","x":30,"y":0.588},{"m":"Energy","u":"E","x":31,"y":0.600},{"m":"Energy","u":"E","x":32,"y":0.586},{"m":"Energy","u":"E","x":33,"y":0.598},{"m":"Energy","u":"E","x":34,"y":0.604},{"m":"Energy","u":"E","x":35,"y":0.596},{"m":"Energy","u":"E","x":36,"y":0.588},{"m":"Energy","u":"E","x":37,"y":0.605},{"m":"Energy","u":"E","x":38,"y":0.598},{"m":"Energy","u":"E","x":39,"y":0.632},{"m":"Energy","u":"E","x":40,"y":0.624},{"m":"Energy","u":"E","x":41,"y":0.605},{"m":"Energy","u":"E","x":42,"y":0.612},{"m":"Energy","u":"E","x":43,"y":0.632},{"m":"Energy","u":"E","x":44,"y":0.645},{"m":"Energy","u":"E","x":45,"y":0.618},{"m":"Energy","u":"E","x":46,"y":0.605},{"m":"Energy","u":"E","x":47,"y":0.628},{"m":"Energy","u":"E","x":48,"y":0.645},{"m":"Energy","u":"E","x":49,"y":0.632},{"m":"Energy","u":"E","x":50,"y":0.618},

    {"m":"Energy","u":"A","x":10,"y":0.476},{"m":"Energy","u":"A","x":11,"y":0.505},{"m":"Energy","u":"A","x":12,"y":0.525},{"m":"Energy","u":"A","x":13,"y":0.535},{"m":"Energy","u":"A","x":14,"y":0.548},{"m":"Energy","u":"A","x":15,"y":0.555},{"m":"Energy","u":"A","x":16,"y":0.562},{"m":"Energy","u":"A","x":17,"y":0.575},{"m":"Energy","u":"A","x":18,"y":0.580},{"m":"Energy","u":"A","x":19,"y":0.585},{"m":"Energy","u":"A","x":20,"y":0.590},{"m":"Energy","u":"A","x":21,"y":0.592},{"m":"Energy","u":"A","x":22,"y":0.598},{"m":"Energy","u":"A","x":23,"y":0.600},{"m":"Energy","u":"A","x":24,"y":0.604},{"m":"Energy","u":"A","x":25,"y":0.608},{"m":"Energy","u":"A","x":26,"y":0.606},{"m":"Energy","u":"A","x":27,"y":0.612},{"m":"Energy","u":"A","x":28,"y":0.618},{"m":"Energy","u":"A","x":29,"y":0.620},{"m":"Energy","u":"A","x":30,"y":0.616},{"m":"Energy","u":"A","x":31,"y":0.622},{"m":"Energy","u":"A","x":32,"y":0.626},{"m":"Energy","u":"A","x":33,"y":0.630},{"m":"Energy","u":"A","x":34,"y":0.628},{"m":"Energy","u":"A","x":35,"y":0.634},{"m":"Energy","u":"A","x":36,"y":0.638},{"m":"Energy","u":"A","x":37,"y":0.644},{"m":"Energy","u":"A","x":38,"y":0.640},{"m":"Energy","u":"A","x":39,"y":0.648},{"m":"Energy","u":"A","x":40,"y":0.652},{"m":"Energy","u":"A","x":41,"y":0.660},{"m":"Energy","u":"A","x":42,"y":0.658},{"m":"Energy","u":"A","x":43,"y":0.664},{"m":"Energy","u":"A","x":44,"y":0.672},{"m":"Energy","u":"A","x":45,"y":0.668},{"m":"Energy","u":"A","x":46,"y":0.674},{"m":"Energy","u":"A","x":47,"y":0.680},{"m":"Energy","u":"A","x":48,"y":0.676},{"m":"Energy","u":"A","x":49,"y":0.684},{"m":"Energy","u":"A","x":50,"y":0.682},

    {"m":"Energy","u":"W","x":10,"y":0.530},{"m":"Energy","u":"W","x":11,"y":0.545},{"m":"Energy","u":"W","x":12,"y":0.560},{"m":"Energy","u":"W","x":13,"y":0.590},{"m":"Energy","u":"W","x":14,"y":0.612},{"m":"Energy","u":"W","x":15,"y":0.605},{"m":"Energy","u":"W","x":16,"y":0.622},{"m":"Energy","u":"W","x":17,"y":0.628},{"m":"Energy","u":"W","x":18,"y":0.640},{"m":"Energy","u":"W","x":19,"y":0.636},{"m":"Energy","u":"W","x":20,"y":0.655},{"m":"Energy","u":"W","x":21,"y":0.650},{"m":"Energy","u":"W","x":22,"y":0.664},{"m":"Energy","u":"W","x":23,"y":0.660},{"m":"Energy","u":"W","x":24,"y":0.674},{"m":"Energy","u":"W","x":25,"y":0.670},{"m":"Energy","u":"W","x":26,"y":0.686},{"m":"Energy","u":"W","x":27,"y":0.680},{"m":"Energy","u":"W","x":28,"y":0.695},{"m":"Energy","u":"W","x":29,"y":0.708},{"m":"Energy","u":"W","x":30,"y":0.700},{"m":"Energy","u":"W","x":31,"y":0.716},{"m":"Energy","u":"W","x":32,"y":0.722},{"m":"Energy","u":"W","x":33,"y":0.714},{"m":"Energy","u":"W","x":34,"y":0.730},{"m":"Energy","u":"W","x":35,"y":0.734},{"m":"Energy","u":"W","x":36,"y":0.728},{"m":"Energy","u":"W","x":37,"y":0.742},{"m":"Energy","u":"W","x":38,"y":0.738},{"m":"Energy","u":"W","x":39,"y":0.745},{"m":"Energy","u":"W","x":40,"y":0.750},{"m":"Energy","u":"W","x":41,"y":0.744},{"m":"Energy","u":"W","x":42,"y":0.754},{"m":"Energy","u":"W","x":43,"y":0.760},{"m":"Energy","u":"W","x":44,"y":0.770},{"m":"Energy","u":"W","x":45,"y":0.776},{"m":"Energy","u":"W","x":46,"y":0.765},{"m":"Energy","u":"W","x":47,"y":0.778},{"m":"Energy","u":"W","x":48,"y":0.781},{"m":"Energy","u":"W","x":49,"y":0.776},{"m":"Energy","u":"W","x":50,"y":0.780}
  ]},
  "mark": {"type": "line", "strokeWidth": 2.3},
  "encoding": {
    "x": {
      "field": "x",
      "type": "quantitative",
      "scale": {"domain": [8, 52], "nice": false},
      "axis": {"values": [10, 20, 30, 40, 50], "format": "d", "title": "Acquired Labels", "titlePadding": 6, "labelFont": "Liberation Serif"}
    },
    "y": {
      "field": "y",
      "type": "quantitative",
      "scale": {"domain": [0.266, 0.857], "nice": false, "zero": false},
      "axis": {"values": [0.3, 0.4, 0.5, 0.6, 0.7, 0.8], "format": ".1f", "title": "Accuracy", "titlePadding": 13, "labelFont": "Liberation Serif"}
    },
    "color": {
      "field": "m",
      "type": "nominal",
      "scale": {
        "domain": ["Random", "Best Pool", "Balanced", "Ensemble", "MC-Dropout", "BGCN", "GPN", "Energy"],
        "range": ["#ff0000", "#008000", "#808080", "#0000ff", "#800080", "#ff8c00", "#000000", "#1e90ff"]
      },
      "legend": {
        "title": null,
        "orient": "none",
        "legendX": 266,
        "legendY": -4,
        "labelFont": "Liberation Serif",
        "encode": {"legend": {"update": {"strokeWidth": {"value": 2}}}}
      }
    },
    "strokeDash": {
      "field": "u",
      "type": "nominal",
      "scale": {"domain": ["E", "A", "W"], "range": [[1, 0], [2, 3.5], [7.5, 3.2]]},
      "legend": {
        "title": "Uncertainty",
        "orient": "none",
        "legendX": 266,
        "legendY": 187,
        "padding": 6,
        "symbolOffset": 11,
        "labelOffset": 22,
        "rowPadding": 6.8,
        "labelFont": "Liberation Serif",
        "titleFont": "Liberation Serif",
        "titleFontSize": 15.5,
        "titleFontWeight": "bold",
        "titleColor": "#111111",
        "titleAnchor": "middle",
        "titlePadding": 8,
        "symbolStrokeColor": "#000000",
        "labelExpr": "datum.label == 'E' ? 'Epistemic' : datum.label == 'A' ? 'Aleatoric' : 'Epi. w/o Net'",
        "encode": {
          "legend": {"update": {"strokeWidth": {"value": 2}}},
          "title": {"update": {"dy": {"value": 3}}}
        }
      }
    }
  }
}
